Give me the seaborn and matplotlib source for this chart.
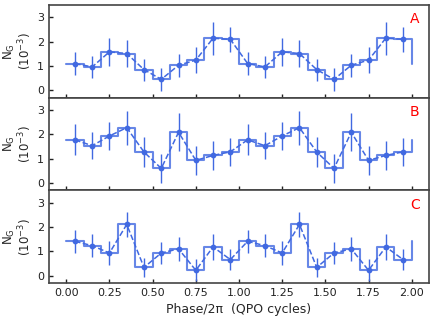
import numpy as np
import pandas as pd
import matplotlib
matplotlib.use("Agg")
import matplotlib.pyplot as plt
import seaborn as sns

# Data (one QPO cycle, 10 phase bins; repeated for the second cycle)
phase_one = [0.05, 0.15, 0.25, 0.35, 0.45, 0.55, 0.65, 0.75, 0.85, 0.95]
A_vals = [1.10, 0.96, 1.58, 1.51, 0.85, 0.45, 1.03, 1.24, 2.14, 2.09]
A_errs = [0.48, 0.46, 0.58, 0.55, 0.45, 0.48, 0.47, 0.52, 0.67, 0.52]
B_vals = [1.77, 1.53, 1.93, 2.27, 1.27, 0.60, 2.08, 0.93, 1.13, 1.28]
B_errs = [0.64, 0.55, 0.59, 0.70, 0.60, 0.58, 0.78, 0.59, 0.58, 0.58]
C_vals = [1.41, 1.23, 0.93, 2.10, 0.34, 0.93, 1.10, 0.22, 1.18, 0.66]
C_errs = [0.47, 0.47, 0.48, 0.51, 0.40, 0.47, 0.50, 0.45, 0.52, 0.44]
panel_labels = ["A", "B", "C"]
xticks = [0.00, 0.25, 0.50, 0.75, 1.00, 1.25, 1.50, 1.75, 2.00]
yticks = [0, 1, 2, 3]

sns.set_style("ticks")
plt.rcParams['font.family'] = ['DejaVu Sans']

color = "#4169E1"
fig = plt.figure(figsize=(4.36, 3.18), dpi=100)
left, right, top, bottom = 49/436, 429/436, 1 - 5/318, 1 - 283/318
h = (top - bottom) / 3

datasets = [(A_vals, A_errs), (B_vals, B_errs), (C_vals, C_errs)]
axes = []
for i, ((vals, errs), lab) in enumerate(zip(datasets, panel_labels)):
    ax = fig.add_axes([left, top - (i + 1) * h, right - left, h])
    axes.append(ax)
    x = np.array(phase_one + [p + 1 for p in phase_one])
    y = np.array(vals + vals)
    e = np.array(errs + errs)
    edges = np.round(np.arange(0, 2.0001, 0.1), 2)
    ystep = np.append(y, y[0])
    ax.step(edges, ystep, where='post', color=color, lw=1.5, alpha=0.8, zorder=2)
    ax.errorbar(x, y, yerr=e, fmt='none', ecolor=color, elinewidth=1.0, zorder=3)
    df = pd.DataFrame({"phase": x, "N": y})
    sns.lineplot(data=df, x="phase", y="N", ax=ax, color=color, linestyle='--',
                 lw=1.1, marker='o', markersize=4.2, markeredgewidth=0, zorder=4)
    ax.set_xlim(-0.1, 2.1)
    ax.set_ylim(-0.3, 3.5)
    ax.set_yticks(yticks)
    ax.set_xticks(xticks)
    ax.tick_params(direction='in', length=3, width=1, labelsize=8, colors='#222222',
                   top=False, right=False)
    for s in ax.spines.values():
        s.set_color('#444444')
        s.set_linewidth(1.2)
    ax.set_ylabel("N$_\\mathrm{G}$\n(10$^{-3}$)", fontsize=8.5, labelpad=2, linespacing=1.0)
    ax.set_xlabel("")
    ax.text(0.975, 0.92, lab, transform=ax.transAxes, color='red', fontsize=10,
            ha='right', va='top')
    if i < 2:
        ax.tick_params(labelbottom=False)
    else:
        ax.xaxis.set_major_formatter(matplotlib.ticker.FormatStrFormatter('%.2f'))
        ax.set_xlabel("Phase/2\u03c0  (QPO cycles)", fontsize=9)

fig.savefig("out.png", dpi=100)
